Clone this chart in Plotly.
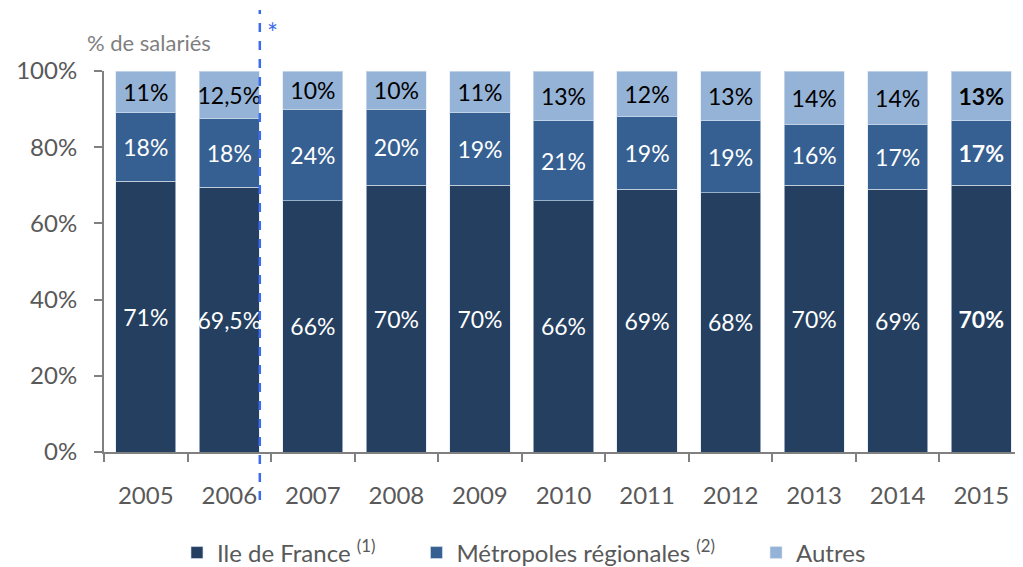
import plotly.graph_objects as go

years = ["2005", "2006", "2007", "2008", "2009", "2010", "2011", "2012", "2013", "2014", "2015"]
idf = [71, 69.5, 66, 70, 70, 66, 69, 68, 70, 69, 70]
metro = [18, 18, 24, 20, 19, 21, 19, 19, 16, 17, 17]
autres = [11, 12.5, 10, 10, 11, 13, 12, 13, 14, 14, 13]
ytick_vals = [0, 20, 40, 60, 80, 100]
ytick_text = ["0%", "20%", "40%", "60%", "80%", "100%"]

FONT = "Lato"
GREY = "#595959"
PAD = "\u2003\u2003"


def labels(vals):
    out = []
    for i, v in enumerate(vals):
        s = ("%g%%" % v).replace(".", ",")
        if i == len(vals) - 1:
            s = "<b>" + s + "</b>"
        out.append(s)
    return out


fig = go.Figure()
series = [
    ("Ile de France <sup>(1)</sup>" + PAD, idf, "#243F60", "white"),
    ("Métropoles régionales <sup>(2)</sup>" + PAD, metro, "#365F92", "white"),
    ("Autres", autres, "#95B3D7", "black"),
]
for name, vals, col, tcol in series:
    fig.add_trace(go.Bar(
        x=years, y=vals, name=name,
        marker=dict(color=col, line=dict(color="rgba(220,230,242,0.6)", width=1)),
        text=labels(vals), textposition="inside", insidetextanchor="middle",
        textangle=0, constraintext="none",
        textfont=dict(family=FONT, size=23, color=tcol),
        hoverinfo="skip",
    ))

fig.add_shape(type="line", xref="x", yref="paper", x0=1.365, x1=1.365, y0=-0.126, y1=1.16,
              line=dict(color="#3B6BEF", width=2.5, dash="dash"))
fig.add_annotation(xref="x", yref="paper", x=1.365, y=1.10, xanchor="left", yanchor="middle",
                   xshift=5, text="*", showarrow=False,
                   font=dict(family=FONT, size=26, color="#3B6BEF"))
fig.add_annotation(xref="paper", yref="paper", x=-0.021, y=1.076, xanchor="left", yanchor="middle",
                   text="% de salariés", showarrow=False,
                   font=dict(family=FONT, size=22, color="#7F7F7F"))

fig.update_layout(
    barmode="stack", bargap=0.28,
    width=1015, height=559,
    margin=dict(l=96, r=0, t=63, b=115, autoexpand=False),
    plot_bgcolor="white", paper_bgcolor="white",
    font=dict(family=FONT, color=GREY),
    showlegend=True,
    legend=dict(orientation="h", x=0.457, xanchor="center", y=-0.265, yanchor="middle",
                font=dict(family=FONT, size=24, color=GREY), traceorder="normal",
                itemwidth=30),
    xaxis=dict(showgrid=False, showline=True, linecolor="#808080", linewidth=2,
               ticks="outside", tickson="boundaries", ticklen=8, tickcolor="#808080", tickwidth=2,
               tickfont=dict(family=FONT, size=24, color=GREY), ticklabelstandoff=21,
               range=[-0.5, 10.5]),
    yaxis=dict(showgrid=False, showline=True, linecolor="#808080", linewidth=2,
               range=[0, 100], tickvals=ytick_vals, ticktext=ytick_text,
               ticks="outside", ticklen=8, tickcolor="#808080", tickwidth=2,
               tickfont=dict(family=FONT, size=24, color=GREY), ticklabelstandoff=12,
               zeroline=False),
)

fig.write_html("out.html")
